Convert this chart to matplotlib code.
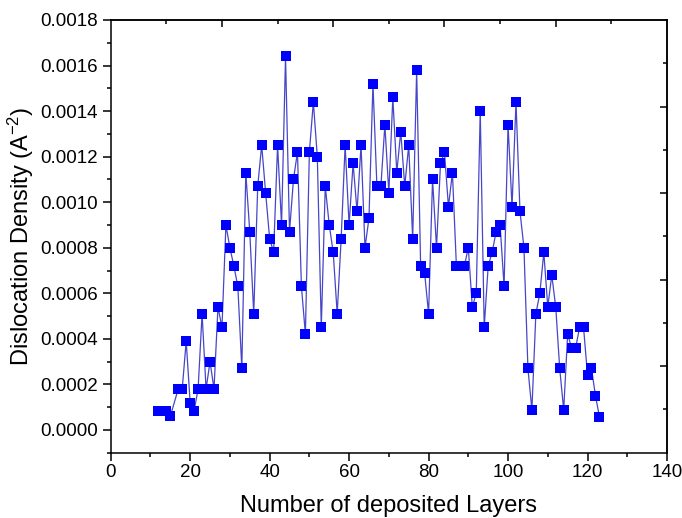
import numpy as np
import matplotlib
matplotlib.use("Agg")
import matplotlib.pyplot as plt
from matplotlib.ticker import MultipleLocator, FixedLocator

plt.rcParams['font.family'] = ['Liberation Sans', 'DejaVu Sans']
plt.rcParams['mathtext.fontset'] = 'custom'
plt.rcParams['mathtext.rm'] = 'Liberation Sans'
plt.rcParams['mathtext.it'] = 'Liberation Sans:italic'

# layer number vs dislocation density
layers = [12, 13, 14, 15, 17, 18, 19, 20, 21, 22, 23, 24, 25, 26, 27, 28, 29, 30,
          31, 32, 33, 34, 35, 36, 37, 38, 39, 40, 41, 42, 43, 44, 45, 46, 47, 48,
          49, 50, 51, 52, 53, 54, 55, 56, 57, 58, 59, 60, 61, 62, 63, 64, 65, 66,
          67, 68, 69, 70, 71, 72, 73, 74, 75, 76, 77, 78, 79, 80, 81, 82, 83, 84,
          85, 86, 87, 88, 89, 90, 91, 92, 93, 94, 95, 96, 97, 98, 99, 100, 101,
          102, 103, 104, 105, 106, 107, 108, 109, 110, 111, 112, 113, 114, 115,
          116, 117, 118, 119, 120, 121, 122, 123]
density = [0.000085, 0.000085, 0.000085, 0.00006, 0.00018, 0.00018, 0.00039,
           0.00012, 0.000085, 0.00018, 0.00051, 0.00018, 0.0003, 0.00018,
           0.00054, 0.00045, 0.0009, 0.0008, 0.00072, 0.00063, 0.00027, 0.00113,
           0.00087, 0.00051, 0.00107, 0.00125, 0.00104, 0.00084, 0.00078,
           0.00125, 0.0009, 0.00164, 0.00087, 0.0011, 0.00122, 0.00063, 0.00042,
           0.00122, 0.00144, 0.0012, 0.00045, 0.00107, 0.0009, 0.00078, 0.00051,
           0.00084, 0.00125, 0.0009, 0.00117, 0.00096, 0.00125, 0.0008, 0.00093,
           0.00152, 0.00107, 0.00107, 0.00134, 0.00104, 0.00146, 0.00113,
           0.00131, 0.00107, 0.00125, 0.00084, 0.00158, 0.00072, 0.00069,
           0.00051, 0.0011, 0.0008, 0.00117, 0.00122, 0.00098, 0.00113, 0.00072,
           0.00072, 0.00072, 0.0008, 0.00054, 0.0006, 0.0014, 0.00045, 0.00072,
           0.00078, 0.00087, 0.0009, 0.00063, 0.00134, 0.00098, 0.00144, 0.00096,
           0.0008, 0.00027, 0.000088, 0.00051, 0.0006, 0.00078, 0.00054, 0.00068,
           0.00054, 0.00027, 0.000088, 0.00042, 0.00036, 0.00036, 0.00045,
           0.00045, 0.00024, 0.00027, 0.00015, 0.000058]

fig = plt.figure(figsize=(6.82, 5.18), dpi=100)
ax = fig.add_axes([0.1623, 0.126, 0.8157, 0.8354])

ax.plot(layers, density, color='#4646c8', lw=0.9, marker='s', ms=7.3,
        mfc='#0000ff', mec='#0000ff', mew=0)

ax.set_xlim(0, 140)
ax.set_ylim(-0.0001, 0.0018)
ax.xaxis.set_major_locator(MultipleLocator(20))
ax.xaxis.set_minor_locator(MultipleLocator(10))
ax.yaxis.set_major_locator(MultipleLocator(0.0002))
ax.yaxis.set_minor_locator(MultipleLocator(0.0001))
ax.yaxis.set_major_formatter(plt.FuncFormatter(lambda v, p: f"{v:.4f}"))

ax.tick_params(which='major', direction='out', length=6, width=1.1, labelsize=13.5)
ax.tick_params(which='minor', direction='out', length=3, width=1.1)
ax.tick_params(axis='x', pad=2)
ax.tick_params(axis='y', pad=3)
for s in ax.spines.values():
    s.set_linewidth(1.1)

# opposite axes: Origin-style 5 divisions, inward ticks, no labels
top = ax.secondary_xaxis('top')
top.xaxis.set_major_locator(FixedLocator([28, 56, 84, 112]))
top.xaxis.set_minor_locator(FixedLocator([14, 42, 70, 98, 126]))
top.tick_params(which='major', direction='in', length=5, width=1.1, labeltop=False)
top.tick_params(which='minor', direction='in', length=3, width=1.1)
top.spines['top'].set_linewidth(1.1)

right = ax.secondary_yaxis('right')
right.yaxis.set_major_locator(FixedLocator([0.00028, 0.00066, 0.00104, 0.00142]))
right.yaxis.set_minor_locator(FixedLocator([0.00009, 0.00047, 0.00085, 0.00123, 0.00161]))
right.tick_params(which='major', direction='in', length=5, width=1.1, labelright=False)
right.tick_params(which='minor', direction='in', length=3, width=1.1)
right.spines['right'].set_linewidth(1.1)

ax.set_xlabel('Number of deposited Layers', fontsize=17, labelpad=10)
ax.set_ylabel('Dislocation Density (A$^{-2}$)', fontsize=17, labelpad=3)

fig.savefig('out.png', dpi=100)
